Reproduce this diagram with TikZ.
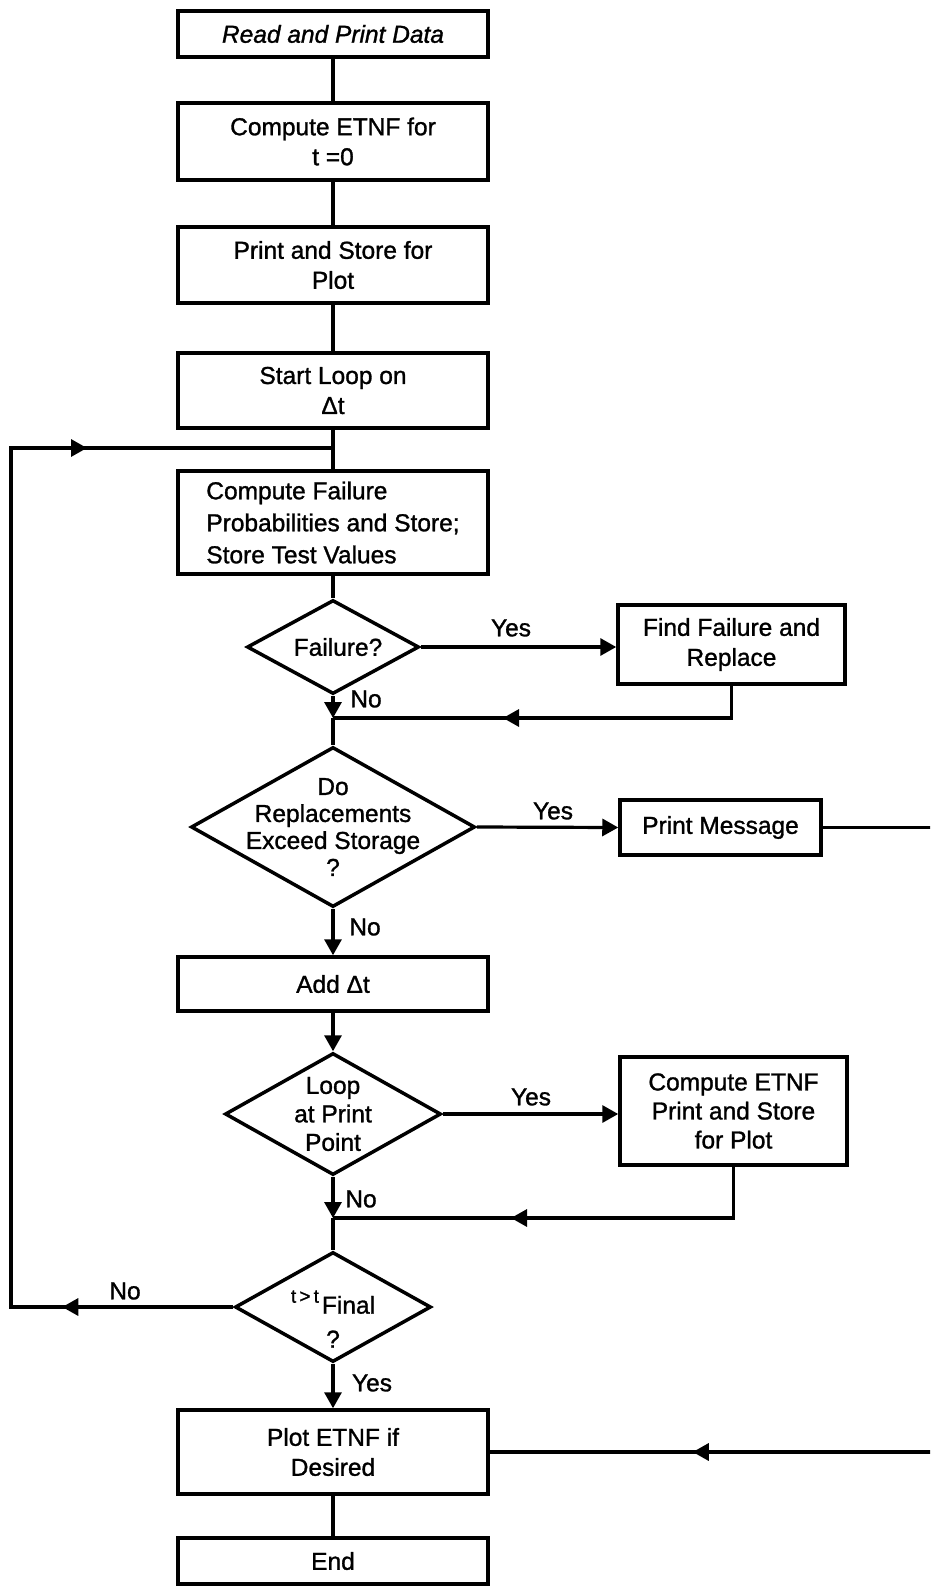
\documentclass[tikz,border=0pt]{standalone}
\usepackage{fontspec}
\setmainfont{Liberation Sans}[BoldFont=Liberation Sans, BoldItalicFont=Liberation Sans Italic, BoldFeatures={FakeBold=1.2}, BoldItalicFeatures={FakeBold=1.2}]
\usetikzlibrary{shapes.geometric,arrows.meta,decorations.markings}
\begin{document}
\begin{tikzpicture}[x=1pt,y=-1pt,
  every node/.style={font=\fontsize{24.5}{30}\selectfont\bfseries},
  box/.style={draw,line width=3.5pt,rectangle,inner sep=0pt,align=center,minimum width=310pt},
  sidebox/.style={draw,line width=3.5pt,rectangle,inner sep=0pt,align=center},
  dia/.style={draw,line width=3.5pt,diamond,inner sep=0pt},
  conn/.style={line width=3.2pt},
  tip/.style={-{Triangle[length=16pt,width=17pt]}},
  midtip/.style={postaction={decorate},decoration={markings,
     mark=at position #1 with {\arrow{Triangle[length=16pt,width=17pt]}}}},
  twotip/.style 2 args={postaction={decorate},decoration={markings,
     mark=at position #1 with {\arrow{Triangle[length=16pt,width=17pt]}},
     mark=at position #2 with {\arrow{Triangle[length=16pt,width=17pt]}}}},
  yn/.style={inner sep=0pt}
]
\useasboundingbox (0,0) rectangle (930,1586);
\clip (0,0) rectangle (930,1586);

% main column
\node[box,minimum height=46pt,font={\fontsize{24.5}{30}\selectfont\bfseries\itshape}] (read) at (333,34) {Read and Print Data};
\node[box,minimum height=77pt] (c0) at (333,141.5) {Compute ETNF for\\t =0};
\node[box,minimum height=76pt] (ps) at (333,265) {Print and Store for\\Plot};
\node[box,minimum height=75pt] (sl) at (333,390.5) {Start Loop on\\Δt};
\coordinate (lj) at (333,448);
\node[box,minimum height=103pt,align=left,font={\fontsize{24.5}{32}\selectfont\bfseries}] (cf) at (333,522.5) {Compute Failure\\Probabilities and Store;\\Store Test Values};

\node[dia,minimum width=172pt,minimum height=94pt,
  label={[inner sep=0pt,xshift=5pt]center:Failure?}] (d1) at (333,647) {};
\node[sidebox,minimum width=227pt,minimum height=79pt] (ff) at (731.5,644.5) {Find Failure and\\Replace};
\coordinate (j1) at (333,718);

\node[dia,minimum width=284pt,minimum height=160pt,
  label={[inner sep=0pt,align=center,font={\fontsize{24.5}{27}\selectfont\bfseries}]center:{Do\\Replacements\\Exceed Storage\\?}}] (d2) at (333,827) {};
\node[sidebox,minimum width=201pt,minimum height=55pt] (pm) at (720.5,827.5) {Print Message};
\coordinate (rt) at (945,827.5);

\node[box,minimum height=54pt] (add) at (333,984) {Add Δt};

\node[dia,minimum width=216pt,minimum height=122pt,
  label={[inner sep=0pt,align=center,font={\fontsize{24.5}{28.5}\selectfont\bfseries}]center:{Loop\\at Print\\Point}}] (d3) at (333,1114) {};
\node[sidebox,minimum width=227pt,minimum height=108pt,font={\fontsize{24.5}{29}\selectfont\bfseries}] (ce) at (733.5,1111) {Compute ETNF\\Print and Store\\for Plot};
\coordinate (j2) at (333,1218);

\node[dia,minimum width=196pt,minimum height=110pt,
  label={[inner sep=0pt,align=center,yshift=-12pt,font={\fontsize{24.5}{34}\selectfont\bfseries}]center:{\raisebox{11pt}{\fontsize{19}{20}\selectfont t\,>\,t}\hspace{3pt}Final\\?}}] (d4) at (333,1307) {};
\coordinate (ll) at (11,1307);

\node[box,minimum height=84pt] (plot) at (333,1452) {Plot ETNF if\\Desired};
\node[box,minimum height=46pt] (end) at (333,1561) {End};

% connectors
\draw[conn] (read) -- (c0);
\draw[conn] (c0) -- (ps);
\draw[conn] (ps) -- (sl);
\draw[conn] (sl) -- (cf);
\draw[conn] (cf) -- (d1);
\draw[conn,tip] (d1.east) -- (d1.east -| ff.west);
\draw[conn,tip] (d1.south) -- (j1);
\draw[conn,midtip=-170pt] (ff.south) |- (j1);
\draw[conn] (j1) -- (d2.north);
\draw[conn,tip] (d2.east) -- (pm.west);
\draw[conn,midtip=-203pt] (pm.east) -- (rt) |- (plot.east);
\draw[conn,tip] (d2.south) -- (add.north);
\draw[conn,tip] (add.south) -- (d3.north);
\draw[conn,tip] (d3.east) -- (d3.east -| ce.west);
\draw[conn,tip] (d3.south) -- (j2);
\draw[conn,midtip=-178pt] (ce.south) |- (j2);
\draw[conn] (j2) -- (d4.north);
\draw[conn,tip] (d4.south) -- (plot.north);
\draw[conn,twotip={171pt}{-246pt}] (d4.west) -- (ll) |- (lj);
\draw[conn] (plot) -- (end);

% labels
\node[yn] (y1) at (511,628) {Yes};
\node[yn] (n1) at (366,699) {No};
\node[yn] (y2) at (553,811) {Yes};
\node[yn] (n2) at (365,927) {No};
\node[yn] (y3) at (531,1097) {Yes};
\node[yn] (n3) at (361,1199) {No};
\node[yn] (n4) at (125,1291) {No};
\node[yn] (y4) at (372,1383) {Yes};
\end{tikzpicture}
\end{document}
